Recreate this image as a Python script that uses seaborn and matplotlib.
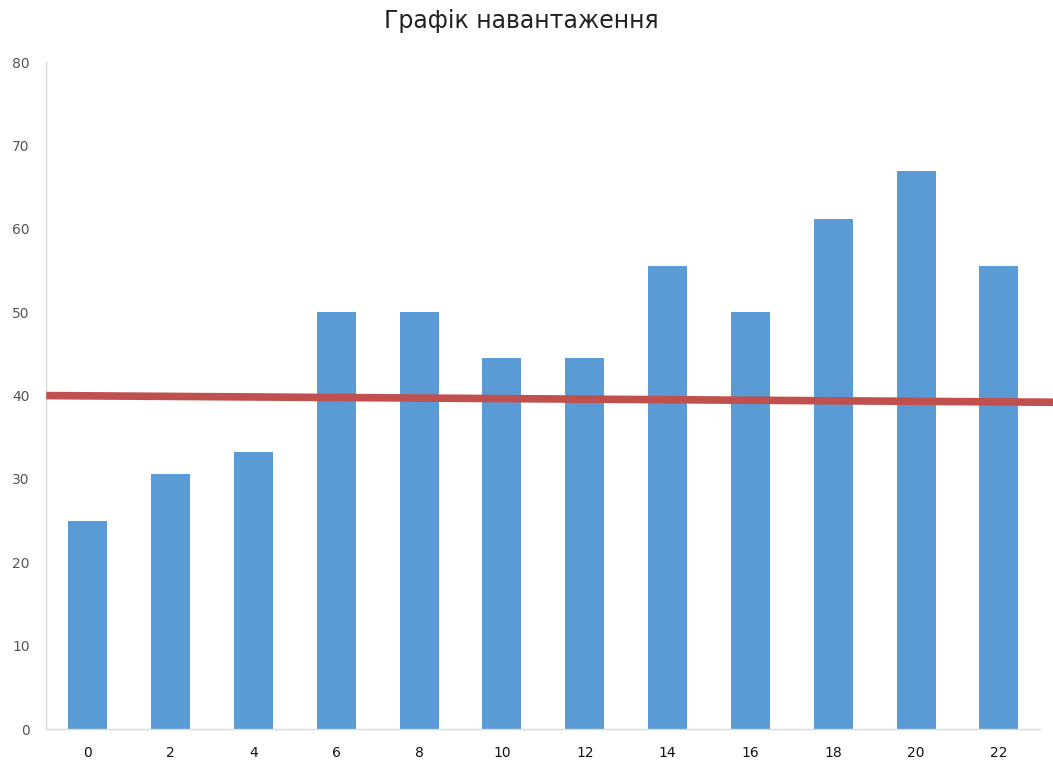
import pandas as pd
import matplotlib.pyplot as plt
import seaborn as sns

# values
hours = ['0', '2', '4', '6', '8', '10', '12', '14', '16', '18', '20', '22']
load = [24.9, 30.6, 33.2, 50.0, 50.0, 44.5, 44.5, 55.6, 50.0, 61.2, 66.9, 55.6]
limit_line = [40.0, 39.2]  # red level line, left and right end

data = pd.DataFrame({'hour': hours, 'load': load})

sns.set_style('white')
plt.rcParams['font.family'] = ['DejaVu Sans']

fig = plt.figure(figsize=(10.53, 7.67), dpi=100)
ax = fig.add_axes([0.044, 0.0495, 0.944, 0.8695])

sns.barplot(data=data, x='hour', y='load', order=hours, color='#5B9BD5',
            saturation=1, width=0.47, linewidth=0, ax=ax)

ax.set_xlim(-0.5, len(hours) - 0.5)
ax.set_ylim(0, 80)
ax.set_yticks(range(0, 81, 10))

# red level line, runs a bit past the right edge of the plot
x_end = len(hours) - 0.5 + 0.16
ax.plot([-0.5, x_end], limit_line, color='#C0504D', lw=5.5, clip_on=False,
        solid_capstyle='butt', zorder=3)

# title sits a little left of the plot centre in the original
fig.text(0.495, 0.972, 'Графік навантаження', fontsize=17, color='#222222',
         ha='center', va='center')
ax.set_xlabel('')
ax.set_ylabel('')

for side in ['top', 'right']:
    ax.spines[side].set_visible(False)
for side in ['left', 'bottom']:
    ax.spines[side].set_color('#D9D9D9')
    ax.spines[side].set_linewidth(1)

ax.tick_params(axis='x', length=0, pad=12, labelsize=10, labelcolor='#111111')
ax.tick_params(axis='y', length=0, pad=12, labelsize=10, labelcolor='#555555')

fig.savefig('out.png', dpi=100)
